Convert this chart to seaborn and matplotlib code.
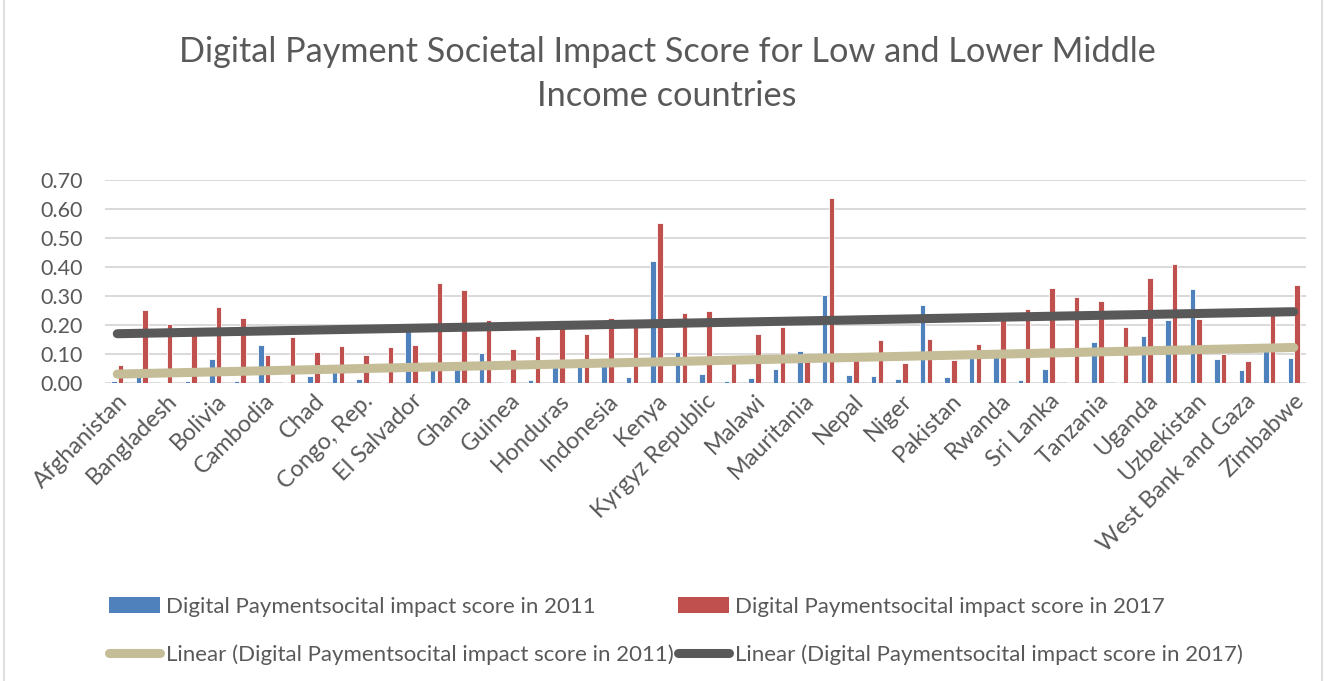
import numpy as np
import pandas as pd
import matplotlib
matplotlib.use("Agg")
import matplotlib.pyplot as plt
import seaborn as sns
from matplotlib.lines import Line2D
from matplotlib.patches import Patch

# Countries (every second one is labelled on the axis)
countries = [
    "Afghanistan", "Armenia", "Bangladesh", "Benin", "Bolivia", "Burkina Faso",
    "Cambodia", "Cameroon", "Chad", "Congo, Dem. Rep.", "Congo, Rep.",
    "Egypt, Arab Rep.", "El Salvador", "Georgia", "Ghana", "Guatemala",
    "Guinea", "Haiti", "Honduras", "India", "Indonesia", "Jordan", "Kenya",
    "Kosovo", "Kyrgyz Republic", "Lao PDR", "Malawi", "Mali", "Mauritania",
    "Mongolia", "Nepal", "Nicaragua", "Niger", "Nigeria", "Pakistan",
    "Philippines", "Rwanda", "Senegal", "Sri Lanka", "Tajikistan", "Tanzania",
    "Togo", "Uganda", "Ukraine", "Uzbekistan", "Vietnam", "West Bank and Gaza",
    "Zambia", "Zimbabwe",
]

score_2011 = [
    0.007, 0.020, 0.004, 0.007, 0.084, 0.007, 0.130, 0.005, 0.023, 0.040,
    0.015, 0.005, 0.180, 0.045, 0.050, 0.103, 0.002, 0.009, 0.060, 0.070,
    0.060, 0.021, 0.420, 0.108, 0.032, 0.007, 0.017, 0.048, 0.109, 0.305,
    0.026, 0.024, 0.013, 0.268, 0.020, 0.090, 0.090, 0.012, 0.047, 0.005,
    0.140, 0.002, 0.163, 0.216, 0.323, 0.082, 0.045, 0.110, 0.085,
]

score_2017 = [
    0.062, 0.253, 0.205, 0.175, 0.262, 0.225, 0.098, 0.157, 0.106, 0.128,
    0.097, 0.124, 0.132, 0.345, 0.322, 0.216, 0.118, 0.162, 0.216, 0.169,
    0.225, 0.195, 0.551, 0.240, 0.248, 0.075, 0.168, 0.193, 0.090, 0.637,
    0.090, 0.148, 0.068, 0.153, 0.080, 0.136, 0.220, 0.256, 0.329, 0.295,
    0.284, 0.193, 0.362, 0.409, 0.220, 0.100, 0.077, 0.235, 0.337,
]

y_ticks = [0.00, 0.10, 0.20, 0.30, 0.40, 0.50, 0.60, 0.70]

label_2011 = "Digital Paymentsocital impact score in 2011"
label_2017 = "Digital Paymentsocital impact score in 2017"
title = "Digital Payment Societal Impact Score for Low and Lower Middle\nIncome countries"

BLUE = "#4F81BD"
RED = "#C0504D"
BEIGE = "#C4BD97"
DARK = "#595959"
GRID = "#D9D9D9"
TEXT = "#595959"

sns.set_theme(style="white")
plt.rcParams["font.family"] = ["Lato", "DejaVu Sans"]

W, H = 1325, 681
fig = plt.figure(figsize=(W / 100, H / 100), dpi=100)
ax = fig.add_axes([105 / W, 1 - 383 / H, 1201 / W, 203 / H])

df = pd.DataFrame({
    "country": countries * 2,
    "score": score_2011 + score_2017,
    "series": [label_2011] * len(countries) + [label_2017] * len(countries),
})

sns.barplot(
    data=df, x="country", y="score", hue="series",
    order=countries, hue_order=[label_2011, label_2017],
    palette=[BLUE, RED], width=0.56, gap=0.2, errorbar=None,
    legend=False, ax=ax, saturation=1, linewidth=0.6, edgecolor="#FFFFFF",
)

# Linear trendlines fitted on category index
xs = np.arange(len(countries))
for values, color in ((score_2011, BEIGE), (score_2017, DARK)):
    slope, intercept = np.polyfit(xs, values, 1)
    ax.plot(xs, slope * xs + intercept, color=color, lw=6.5,
            solid_capstyle="round", zorder=5)

ax.set_xlim(-0.5, len(countries) - 0.5)
ax.set_ylim(0, 0.7)
ax.set_yticks(y_ticks)
ax.set_yticklabels([f"{v:.2f}" for v in y_ticks])
ax.set_xticks(xs[::2])
ax.set_xticklabels(countries[::2], rotation=45, ha="right",
                   rotation_mode="anchor")
ax.tick_params(axis="y", length=0, pad=16, labelsize=15.5, labelcolor=TEXT)
ax.tick_params(axis="x", length=0, pad=5, labelsize=16.8, labelcolor=TEXT)
ax.set_xlabel("")
ax.set_ylabel("")
ax.yaxis.grid(True, color=GRID, lw=1.4)
ax.set_axisbelow(True)
for s in ax.spines.values():
    s.set_visible(False)

fig.text(667 / W, 1 - 74 / H, title, ha="center", va="center",
         fontsize=24.7, color=TEXT, linespacing=1.5)

handles = [
    Patch(facecolor=BLUE, edgecolor="none"),
    Line2D([0], [0], color=BEIGE, lw=6.5, solid_capstyle="round"),
    Patch(facecolor=RED, edgecolor="none"),
    Line2D([0], [0], color=DARK, lw=6.5, solid_capstyle="round"),
]
labels = [label_2011, "Linear (" + label_2011 + ")",
          label_2017, "Linear (" + label_2017 + ")"]
leg = fig.legend(handles, labels, ncol=2, loc="upper left",
                 bbox_to_anchor=(109 / W, 1 - 597 / H), frameon=False,
                 borderpad=0, borderaxespad=0,
                 fontsize=16.0, handlelength=2.3, handleheight=0.75,
                 handletextpad=0.25, columnspacing=0.2, labelspacing=1.22)
for t in leg.get_texts():
    t.set_color(TEXT)

# Chart area border
for xpos in (4 / W, 1322 / W):
    fig.add_artist(Line2D([xpos, xpos], [0, 1], color=GRID, lw=1.2,
                          transform=fig.transFigure))

fig.savefig("out.png", dpi=100, facecolor="white")
